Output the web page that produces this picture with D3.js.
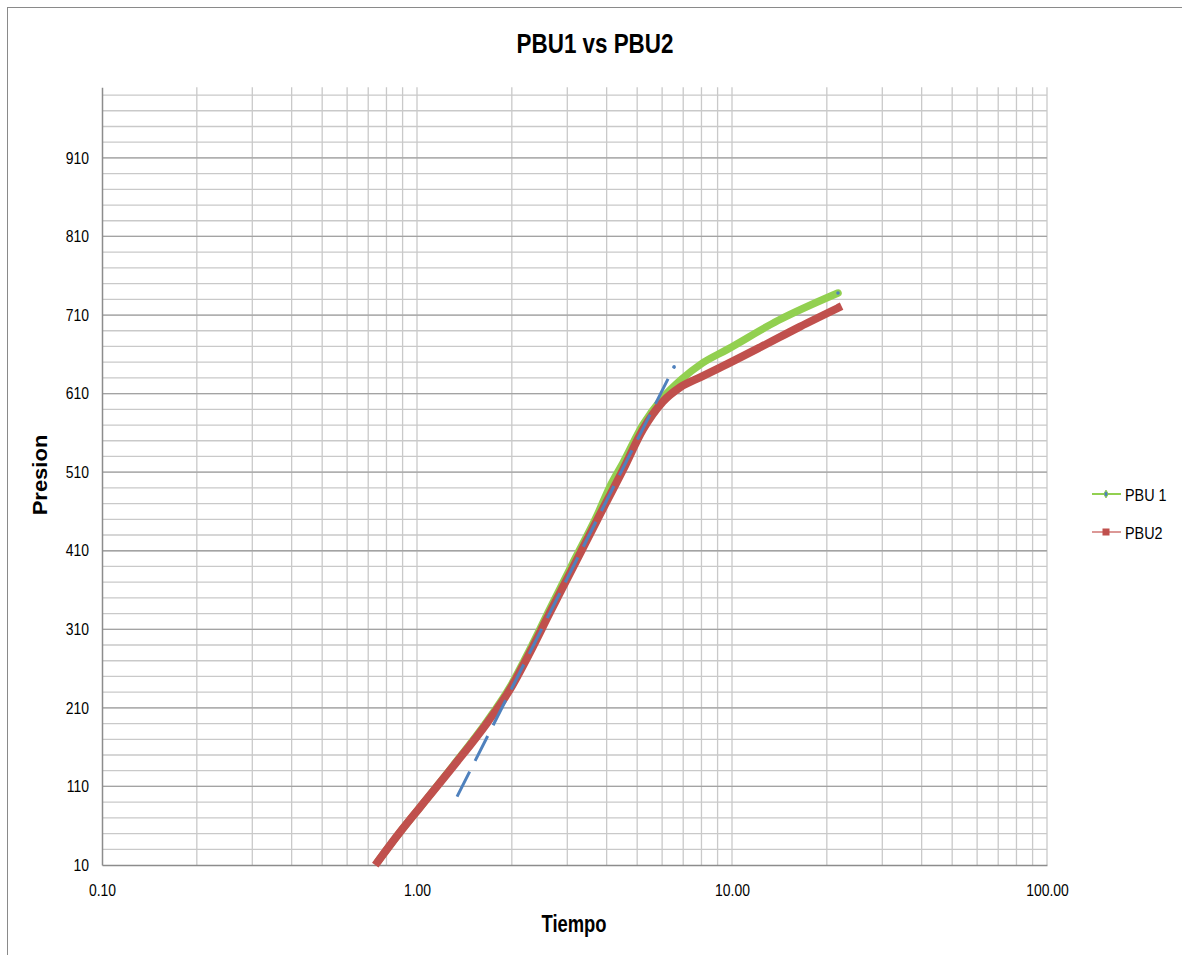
<!DOCTYPE html>
<html>
<head>
<meta charset="utf-8">
<script src="https://cdn.jsdelivr.net/npm/d3@7"></script>
<style>
  body { margin: 0; background: #fff; }
  svg { display: block; }
  text { font-family: "Liberation Sans", Arial, sans-serif; fill: #000; }
</style>
</head>
<body>
<div id="chart"></div>
<script>
// PBU 1 (verde)
const pbu1Tiempo  = [0.75, 0.88, 1.02, 1.30, 1.67, 1.97, 2.28, 2.64, 3.13, 3.73, 4.10, 4.51, 5.21, 6.00, 6.90, 8.00, 9.64, 14.0, 21.7];
const pbu1Presion = [14, 51, 83, 136, 193, 236, 284, 336, 395, 455, 492, 522, 570, 604, 628, 648, 666, 703, 738];

// PBU2 (rojo)
const pbu2Tiempo  = [0.75, 0.88, 1.02, 1.30, 1.67, 1.97, 2.28, 2.64, 3.13, 3.73, 4.51, 5.21, 6.04, 6.84, 7.95, 9.16, 12.3, 16.4, 21.7];
const pbu2Presion = [14, 51, 83, 135, 191, 233, 280, 331, 389, 449, 513, 564, 600, 618, 631, 643, 669, 695, 719];

// recta tangente (punteada)
const rectaTiempo  = [1.34, 6.55];
const rectaPresion = [97, 644];

const yTicks = [10, 110, 210, 310, 410, 510, 610, 710, 810, 910];
const xTicks = [0.1, 1, 10, 100];
const xTickLabels = ["0.10", "1.00", "10.00", "100.00"];
const series = ["PBU 1", "PBU2"];

const width = 1182, height = 955;
const plotLeft = 102, plotRight = 1047, plotTop = 87.2, plotBottom = 865;

const svg = d3.select("#chart").append("svg")
    .attr("width", width)
    .attr("height", height);

// marco exterior
svg.append("rect")
    .attr("x", 7.5).attr("y", 7.5)
    .attr("width", 1190).attr("height", 960)
    .attr("fill", "none")
    .attr("stroke", "#8a8a8a");

const x = d3.scaleLog().domain([0.1, 100]).range([plotLeft, plotRight]);
const y = d3.scaleLinear().domain([10, 1000]).range([plotBottom, plotTop]);

// grilla vertical (log)
const xGrid = [];
[0.1, 1, 10].forEach(dec => { for (let k = 1; k <= 9; k++) xGrid.push(dec * k); });
xGrid.push(100);

svg.append("g").selectAll("line")
    .data(xGrid.slice(1))
    .enter().append("line")
    .attr("x1", d => x(d)).attr("x2", d => x(d))
    .attr("y1", plotTop).attr("y2", plotBottom)
    .attr("stroke", "#c9c9c9")
    .attr("stroke-width", 1.3);

// grilla horizontal menor / mayor
const yMinor = d3.range(30, 1000, 20);
svg.append("g").selectAll("line")
    .data(yMinor)
    .enter().append("line")
    .attr("x1", plotLeft).attr("x2", plotRight)
    .attr("y1", d => y(d)).attr("y2", d => y(d))
    .attr("stroke", "#c9c9c9")
    .attr("stroke-width", 1.3);

svg.append("g").selectAll("line")
    .data(yTicks.slice(1))
    .enter().append("line")
    .attr("x1", plotLeft).attr("x2", plotRight)
    .attr("y1", d => y(d)).attr("y2", d => y(d))
    .attr("stroke", "#a3a3a3")
    .attr("stroke-width", 1.3);

// ejes
const yAxis = svg.append("g")
    .attr("transform", `translate(${plotLeft},0)`)
    .call(d3.axisLeft(y).tickValues(yTicks).tickSize(0).tickPadding(15).tickFormat(d3.format("d")));
const xAxis = svg.append("g")
    .attr("transform", `translate(0,${plotBottom})`)
    .call(d3.axisBottom(x).tickValues(xTicks).tickSize(0).tickPadding(20).tickFormat((d, i) => xTickLabels[i]));

[yAxis, xAxis].forEach(a => {
    a.select(".domain").attr("stroke", "#8c8c8c").attr("stroke-width", 1.5);
    a.selectAll("text")
        .style("font-family", "'Liberation Sans', Arial, sans-serif")
        .style("font-size", "16px")
        .attr("fill", "#000")
        .attr("transform", "scale(0.87,1)");
});

// curvas
const line = d3.line()
    .x(d => x(d[0]))
    .y(d => y(d[1]))
    .curve(d3.curveMonotoneX);

const pbu1 = pbu1Tiempo.map((t, i) => [t, pbu1Presion[i]]);
const pbu2 = pbu2Tiempo.map((t, i) => [t, pbu2Presion[i]]);
const recta = rectaTiempo.map((t, i) => [t, rectaPresion[i]]);

svg.append("path")
    .datum(pbu1)
    .attr("d", line)
    .attr("fill", "none")
    .attr("stroke", "#92d050")
    .attr("stroke-width", 7.5)
    .attr("stroke-linecap", "round");

svg.append("circle")
    .attr("cx", x(pbu1[pbu1.length - 1][0]))
    .attr("cy", y(pbu1[pbu1.length - 1][1]))
    .attr("r", 1.8)
    .attr("fill", "#4f81bd");

svg.append("path")
    .datum(pbu2)
    .attr("d", line)
    .attr("fill", "none")
    .attr("stroke", "#c0504d")
    .attr("stroke-width", 8)
    .attr("stroke-linecap", "square");

svg.append("path")
    .datum(recta)
    .attr("d", d3.line().x(d => x(d[0])).y(d => y(d[1])))
    .attr("fill", "none")
    .attr("stroke", "#4f81bd")
    .attr("stroke-width", 3)
    .attr("stroke-dasharray", "28,12");

svg.append("circle")
    .attr("cx", x(recta[1][0]))
    .attr("cy", y(recta[1][1]))
    .attr("r", 1.8)
    .attr("fill", "#4f81bd");

// titulos
svg.append("text")
    .attr("transform", "translate(595,53) scale(0.8,1)")
    .attr("text-anchor", "middle")
    .style("font-size", "28px")
    .style("font-weight", "bold")
    .text("PBU1 vs PBU2");

svg.append("text")
    .attr("transform", "translate(574,932) scale(0.8,1)")
    .attr("text-anchor", "middle")
    .style("font-size", "23px")
    .style("font-weight", "bold")
    .text("Tiempo");

svg.append("text")
    .attr("transform", "translate(47,475) scale(0.88,1) rotate(-90)")
    .attr("text-anchor", "middle")
    .style("font-size", "22px")
    .style("font-weight", "bold")
    .text("Presion");

// leyenda
const legend = svg.append("g");
const legendColors = ["#92d050", "#c0504d"];
const legendLine = ["#92d050", "#dc9896"];
series.forEach((s, i) => {
    const ly = 494 + i * 38;
    legend.append("line")
        .attr("x1", 1092).attr("x2", 1121)
        .attr("y1", ly).attr("y2", ly)
        .attr("stroke", legendLine[i])
        .attr("stroke-width", 2);
    if (i === 0) {
        legend.append("path")
            .attr("d", d3.symbol().type(d3.symbolDiamond).size(18)())
            .attr("transform", `translate(1106,${ly})`)
            .attr("fill", "#4f81bd")
            .attr("stroke", "#92d050");
    } else {
        legend.append("rect")
            .attr("x", 1102.5).attr("y", ly - 3.5)
            .attr("width", 7).attr("height", 7)
            .attr("fill", legendColors[i]);
    }
    legend.append("text")
        .attr("transform", `translate(1125,${ly + 7}) scale(0.9,1)`)
        .style("font-size", "16px")
        .text(s);
});
</script>
</body>
</html>
